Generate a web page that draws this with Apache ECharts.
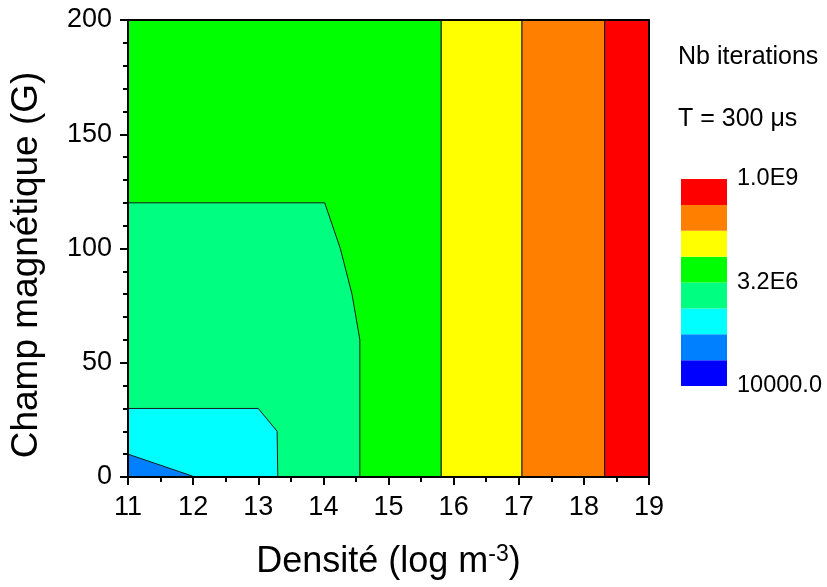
<!DOCTYPE html>
<html>
<head>
<meta charset="utf-8">
<script src="https://cdn.jsdelivr.net/npm/echarts@6/dist/echarts.min.js"></script>
<style>html,body{margin:0;padding:0;background:#fff}#c{width:827px;height:587px}</style>
</head>
<body>
<div id="c"></div>
<script>
// ---- data ----
const xTicks = [11, 12, 13, 14, 15, 16, 17, 18, 19];
const yTicks = [0, 50, 100, 150, 200];
const levelColors = ['#0000ff', '#0080ff', '#00ffff', '#00ff80', '#00ff00', '#ffff00', '#ff8000', '#ff0000'];
const colorbarLabels = ['10000.0', '3.2E6', '1.0E9'];
// contour regions: [density (log m-3), field (G)] vertices, with level index
const greenZone  = [[11, 0], [11, 200], [15.81, 200], [15.81, 0]];
const tealZone   = [[11, 0], [11, 120], [14.02, 120], [14.26, 100], [14.44, 80], [14.56, 60], [14.56, 0]];
const cyanZone   = [[11, 0], [11, 30], [13.0, 30], [13.29, 20], [13.3, 0]];
const blueZone   = [[11, 0], [11, 10], [12.03, 0]];
const yellowZone = [[15.81, 0], [15.81, 200], [17.05, 200], [17.05, 0]];
const orangeZone = [[17.05, 0], [17.05, 200], [18.32, 200], [18.32, 0]];
const redZone    = [[18.32, 0], [18.32, 200], [19, 200], [19, 0]];
const zones = [
  { pts: greenZone, level: 4 },
  { pts: tealZone, level: 3 },
  { pts: cyanZone, level: 2 },
  { pts: blueZone, level: 1 },
  { pts: yellowZone, level: 5 },
  { pts: orangeZone, level: 6 },
  { pts: redZone, level: 7 }
];

const FONT = 'Liberation Sans, Arial, sans-serif';
const chart = echarts.init(document.getElementById('c'), null, { renderer: 'canvas' });

const zoneSeries = zones.map(z => ({
  type: 'custom',
  xAxisIndex: 0, yAxisIndex: 0,
  coordinateSystem: 'cartesian2d',
  data: z.pts,
  z: 2,
  silent: true,
  renderItem: (params, api) => {
    if (params.dataIndex !== 0) return null;
    const points = z.pts.map(p => api.coord(p));
    return {
      type: 'polygon',
      shape: { points },
      style: { fill: levelColors[z.level], stroke: '#1a1a1a', lineWidth: 1 }
    };
  }
}));

const colorbarSeries = {
  type: 'custom',
  xAxisIndex: 2, yAxisIndex: 2,
  data: levelColors.map((c, i) => [i]),
  silent: true,
  renderItem: (params, api) => {
    const i = api.value(0);
    const a = api.coord([0, i]);
    const b = api.coord([1, i + 1]);
    return {
      type: 'rect',
      shape: { x: a[0], y: b[1], width: b[0] - a[0], height: a[1] - b[1] },
      style: { fill: levelColors[i] }
    };
  }
};

const axisLineStyle = { color: '#000', width: 2 };

const option = {
  animation: false,
  textStyle: { fontFamily: FONT },
  grid: [
    { left: 128, top: 20, right: 178, bottom: 110 },
    { left: 681, top: 179, width: 46, height: 207 }
  ],
  xAxis: [
    {
      type: 'value', gridIndex: 0, min: 11, max: 19, interval: 1, position: 'bottom', z: 10,
      axisLine: { show: true, onZero: false, lineStyle: axisLineStyle },
      axisTick: { show: true, length: 8, lineStyle: { color: '#000', width: 2 } },
      minorTick: { show: true, splitNumber: 2, length: 5, lineStyle: { color: '#000', width: 2 } },
      splitLine: { show: false },
      axisLabel: { fontSize: 27, color: '#000', margin: 17, fontFamily: FONT,
        formatter: v => (xTicks.indexOf(v) >= 0 ? String(v) : '') },
      name: 'Densité (log m{sup|-3})',
      nameLocation: 'middle', nameGap: 66,
      nameTextStyle: { fontSize: 36, color: '#000', fontFamily: FONT,
        rich: { sup: { fontSize: 23, color: '#000', fontFamily: FONT, verticalAlign: 'top', padding: [0, 0, 15, 0] } } }
    },
    {
      type: 'value', gridIndex: 0, min: 11, max: 19, position: 'top', z: 10,
      axisLine: { show: true, onZero: false, lineStyle: axisLineStyle },
      axisTick: { show: false }, axisLabel: { show: false }, splitLine: { show: false }
    },
    {
      type: 'value', gridIndex: 1, min: 0, max: 1, show: false
    }
  ],
  yAxis: [
    {
      type: 'value', gridIndex: 0, min: 0, max: 200, interval: 50, position: 'left', z: 10,
      axisLine: { show: true, onZero: false, lineStyle: axisLineStyle },
      axisTick: { show: true, length: 8, lineStyle: { color: '#000', width: 2 } },
      minorTick: { show: true, splitNumber: 5, length: 5, lineStyle: { color: '#000', width: 2 } },
      splitLine: { show: false },
      axisLabel: { fontSize: 27, color: '#000', margin: 16, fontFamily: FONT,
        formatter: v => (yTicks.indexOf(v) >= 0 ? String(v) : '') }
    },
    {
      type: 'value', gridIndex: 0, min: 0, max: 200, position: 'right', z: 10,
      axisLine: { show: true, onZero: false, lineStyle: axisLineStyle },
      axisTick: { show: false }, axisLabel: { show: false }, splitLine: { show: false }
    },
    {
      type: 'value', gridIndex: 1, min: 0, max: 8, interval: 4, position: 'right',
      axisLine: { show: false }, axisTick: { show: false }, splitLine: { show: false },
      axisLabel: { fontSize: 23.5, color: '#000', margin: 10, fontFamily: FONT,
        formatter: v => colorbarLabels[v / 4] }
    }
  ],
  graphic: [
    { type: 'text', x: 27, y: 265, rotation: Math.PI / 2,
      style: { text: 'Champ magnétique (G)', fontSize: 37, fill: '#000', fontFamily: FONT, align: 'center', verticalAlign: 'middle' } },
    { type: 'text', x: 678, y: 57.5,
      style: { text: 'Nb iterations', fontSize: 25, fill: '#000', fontFamily: FONT, align: 'left', verticalAlign: 'middle' } },
    { type: 'text', x: 678, y: 119,
      style: { text: 'T = 300 μs', fontSize: 25, fill: '#000', fontFamily: FONT, align: 'left', verticalAlign: 'middle' } }
  ],
  series: zoneSeries.concat([colorbarSeries])
};
chart.setOption(option);
</script>
</body>
</html>
